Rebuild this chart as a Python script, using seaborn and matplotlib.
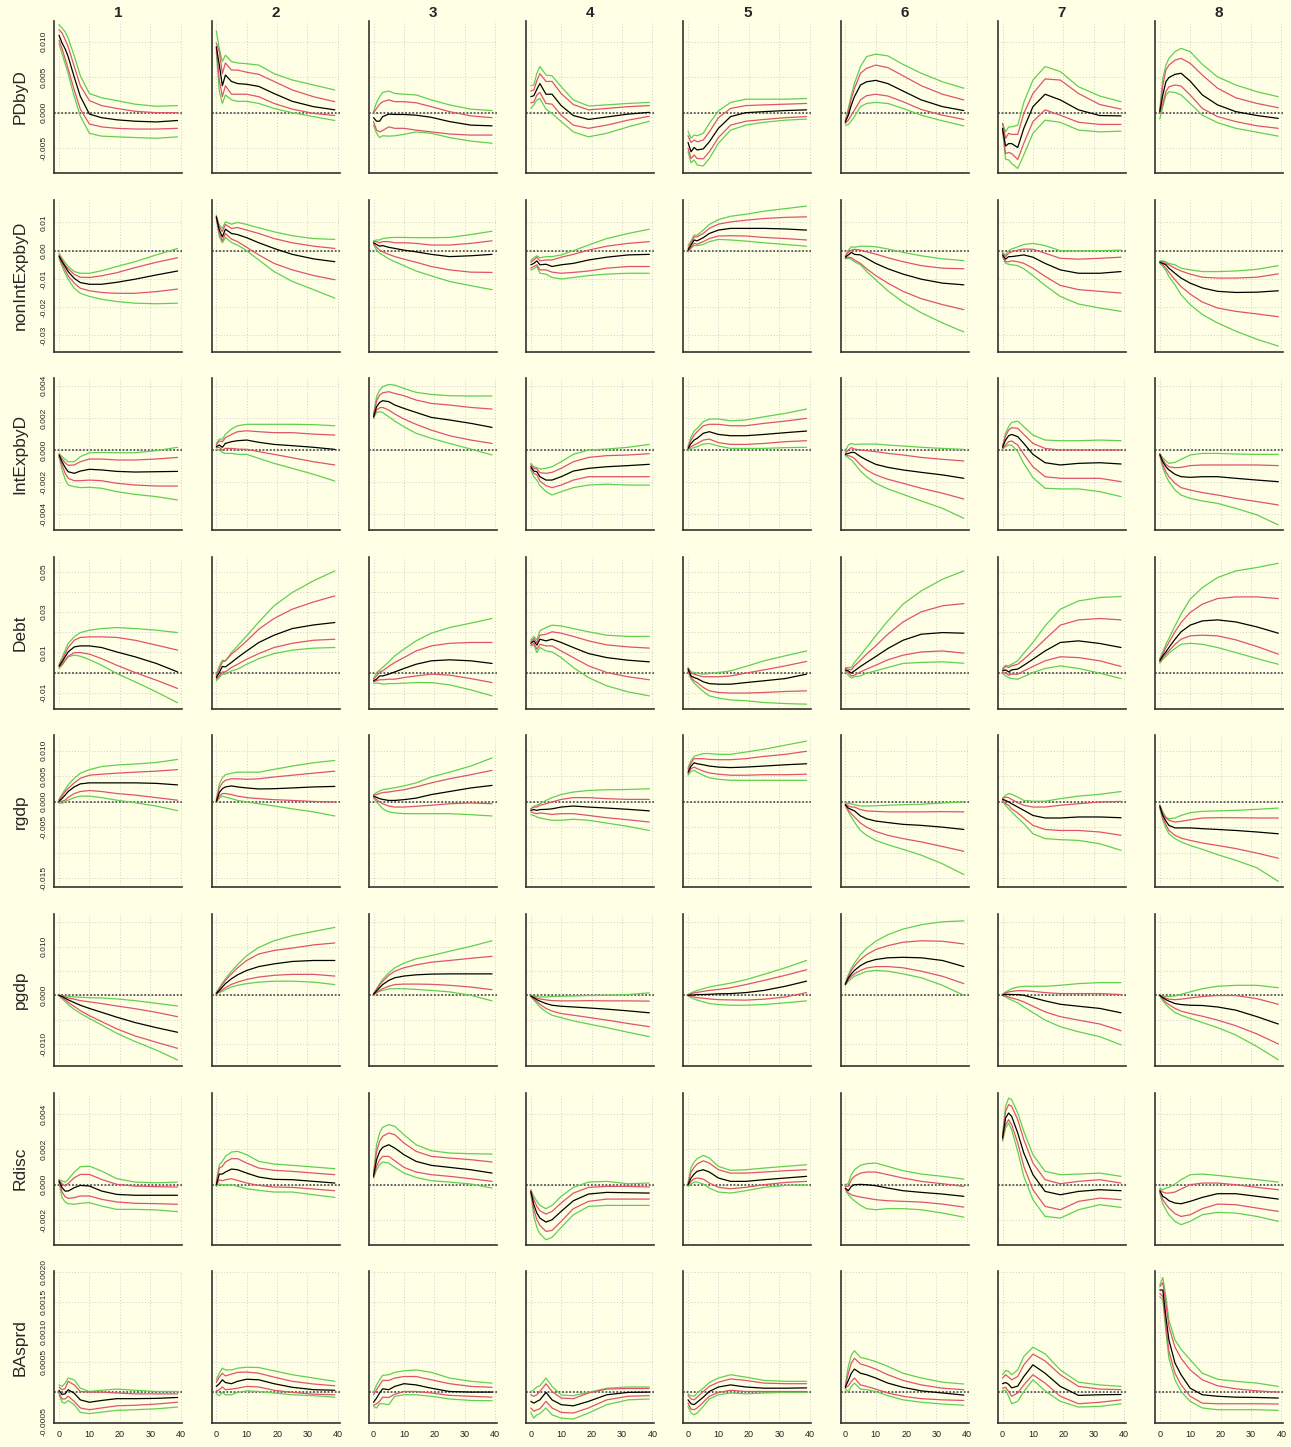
import numpy as np
import seaborn as sns
import matplotlib.pyplot as plt

H = [0, 1, 2, 3, 5, 7, 10, 14, 19, 25, 32, 39]
shocks = ["1", "2", "3", "4", "5", "6", "7", "8"]
variables = ["PDbyD", "nonIntExpbyD", "IntExpbyD", "Debt", "rgdp", "pgdp", "Rdisc", "BAsprd"]

# ---- PDbyD (x 1e-3) ----
PDbyD_mid = [
    [10.9, 9.8, 9.0, 7.9, 5.0, 2.3, -0.2, -0.7, -1.0, -1.2, -1.3, -1.1],
    [9.3, 6.7, 3.8, 5.3, 4.4, 4.1, 4.0, 3.7, 2.7, 1.6, 0.85, 0.4],
    [-0.7, -1.2, -1.2, -0.55, -0.2, -0.25, -0.25, -0.35, -0.65, -1.25, -1.75, -1.85],
    [2.25, 2.4, 3.3, 4.1, 2.6, 2.6, 1.0, -0.4, -0.95, -0.6, -0.2, 0.05],
    [-4.2, -5.5, -4.9, -5.25, -5.1, -4.1, -2.2, -0.55, 0.0, 0.15, 0.3, 0.4],
    [-1.35, -0.35, 1.1, 2.25, 3.9, 4.35, 4.55, 4.1, 3.05, 1.8, 0.85, 0.3],
    [-2.2, -4.7, -4.35, -4.35, -4.9, -2.2, 0.85, 2.6, 1.8, 0.4, -0.4, -0.45],
    [0.15, 2.5, 4.35, 4.95, 5.4, 5.55, 4.45, 2.5, 1.1, 0.15, -0.4, -0.8],
]
PDbyD_rhi = [
    [11.7, 11.2, 10.3, 9.3, 6.5, 3.8, 1.7, 1.0, 0.6, 0.2, 0.0, 0.0],
    [9.8, 8.6, 5.5, 7.0, 6.0, 6.0, 5.7, 5.4, 4.4, 3.2, 2.25, 1.55],
    [0.0, 0.6, 1.2, 1.55, 1.8, 1.55, 1.55, 1.4, 0.85, 0.15, -0.45, -0.7],
    [3.05, 3.2, 4.5, 5.5, 4.4, 4.4, 2.7, 1.15, 0.4, 0.6, 0.85, 1.0],
    [-3.25, -4.2, -3.85, -4.1, -3.85, -2.7, -0.7, 0.6, 1.0, 1.1, 1.2, 1.3],
    [-1.15, 0.15, 2.0, 3.4, 5.55, 6.25, 6.7, 6.35, 5.2, 3.8, 2.6, 1.8],
    [-1.5, -3.6, -2.9, -3.05, -3.05, -0.1, 2.7, 4.75, 4.6, 2.7, 1.15, 0.5],
    [0.15, 3.9, 6.0, 6.7, 7.4, 7.65, 6.95, 5.3, 3.45, 2.1, 1.3, 0.7],
]
PDbyD_rlo = [
    [10.2, 9.0, 7.6, 6.2, 3.2, 0.5, -1.6, -2.0, -2.2, -2.3, -2.3, -2.2],
    [9.1, 4.6, 2.25, 3.8, 2.6, 2.6, 2.6, 2.25, 1.3, 0.5, -0.1, -0.4],
    [-1.25, -2.45, -2.7, -2.5, -2.0, -2.2, -2.2, -2.45, -2.7, -3.0, -3.15, -3.15],
    [1.4, 1.5, 2.5, 2.85, 1.3, 1.2, -0.35, -1.75, -2.2, -1.75, -1.05, -0.5],
    [-5.0, -6.45, -5.95, -6.45, -6.5, -5.5, -3.5, -1.75, -1.2, -0.95, -0.7, -0.55],
    [-1.5, -1.05, -0.35, 0.35, 1.8, 2.4, 2.6, 2.35, 1.55, 0.45, -0.35, -0.95],
    [-2.45, -5.75, -5.6, -5.75, -6.6, -4.3, -1.25, 0.4, -0.35, -1.35, -1.65, -1.65],
    [-0.1, 1.3, 2.95, 3.65, 3.9, 3.75, 2.5, 0.6, -0.55, -1.25, -1.85, -2.2],
]
PDbyD_ghi = [
    [12.4, 11.9, 11.4, 10.5, 8.0, 5.2, 2.7, 2.1, 1.7, 1.2, 0.9, 1.0],
    [11.5, 9.0, 7.2, 8.1, 7.2, 7.0, 6.9, 6.7, 5.5, 4.6, 3.9, 3.2],
    [0.15, 1.45, 2.25, 2.85, 3.05, 2.7, 2.6, 2.5, 1.8, 1.1, 0.5, 0.3],
    [3.8, 3.9, 5.55, 6.5, 5.3, 5.2, 3.65, 1.8, 0.95, 1.1, 1.3, 1.45],
    [-2.6, -3.6, -3.15, -3.25, -2.9, -1.5, 0.25, 1.45, 1.9, 1.9, 1.9, 2.0],
    [-1.15, 0.6, 2.5, 4.1, 6.5, 7.9, 8.25, 8.0, 6.8, 5.55, 4.35, 3.45],
    [-1.5, -2.7, -2.0, -2.0, -1.75, 1.45, 4.6, 6.5, 5.8, 3.65, 2.35, 1.55],
    [0.4, 4.85, 6.7, 7.65, 8.6, 9.05, 8.6, 6.8, 5.05, 3.9, 2.95, 2.25],
]
PDbyD_glo = [
    [9.7, 8.3, 6.9, 5.5, 2.3, -0.5, -2.9, -3.3, -3.4, -3.5, -3.6, -3.4],
    [8.6, 3.0, 1.3, 2.5, 1.8, 1.6, 1.6, 1.3, 0.6, 0.0, -0.55, -1.1],
    [-1.75, -2.9, -3.5, -3.25, -3.3, -3.25, -3.05, -2.7, -2.9, -3.5, -4.0, -4.3],
    [0.6, 1.1, 1.8, 2.0, 0.5, -0.1, -1.25, -2.7, -3.4, -2.9, -2.0, -1.2],
    [-5.5, -7.05, -6.65, -7.35, -7.5, -6.45, -4.3, -2.45, -1.75, -1.35, -1.05, -0.9],
    [-1.75, -1.65, -1.15, -0.55, 0.85, 1.3, 1.45, 1.3, 0.6, -0.35, -1.15, -1.85],
    [-2.45, -6.55, -6.65, -7.15, -7.85, -5.95, -2.9, -1.05, -1.35, -2.45, -2.7, -2.6],
    [-0.9, 0.85, 2.5, 2.95, 2.85, 2.5, 1.3, -0.35, -1.4, -2.2, -2.75, -3.3],
]

# ---- nonIntExpbyD (x 1e-3) ----
nonIntExpbyD_mid = [
    [-1.9, -3.9, -5.6, -7.4, -9.8, -11.3, -11.9, -11.9, -11.2, -10.1, -8.6, -7.2],
    [12.0, 7.3, 4.9, 7.6, 6.1, 5.7, 4.6, 2.8, 0.8, -1.3, -2.9, -3.9],
    [2.8, 2.2, 1.6, 1.8, 1.2, 0.8, 0.2, -0.4, -1.3, -2.1, -1.8, -1.3],
    [-5.0, -4.5, -3.6, -5.0, -4.8, -5.6, -5.0, -4.5, -3.3, -2.3, -1.5, -1.3],
    [0.2, 2.0, 3.8, 3.5, 4.6, 6.1, 7.3, 7.9, 7.9, 7.9, 7.7, 7.3],
    [-2.3, -1.5, -0.6, -1.3, -1.5, -2.7, -4.5, -6.4, -8.3, -10.1, -11.5, -12.1],
    [-1.5, -3.0, -2.1, -2.1, -1.8, -1.5, -2.3, -4.5, -6.8, -8.0, -8.0, -7.4],
    [-4.1, -4.5, -5.0, -6.2, -8.0, -9.7, -11.5, -13.2, -14.4, -14.8, -14.7, -14.2],
]
nonIntExpbyD_rhi = [
    [-1.5, -3.3, -5.1, -6.4, -8.4, -9.4, -9.5, -8.9, -7.8, -6.0, -4.1, -2.5],
    [12.2, 8.4, 6.7, 9.3, 7.9, 8.2, 7.3, 6.1, 4.3, 2.8, 1.6, 0.8],
    [3.2, 3.2, 2.8, 3.2, 3.2, 2.8, 2.8, 2.6, 2.0, 2.0, 2.6, 3.5],
    [-4.1, -3.3, -2.3, -3.6, -3.3, -3.3, -2.3, -1.3, 0.2, 1.6, 2.6, 3.2],
    [0.8, 2.8, 4.9, 4.9, 6.1, 7.9, 9.4, 10.2, 10.8, 11.4, 11.8, 12.0],
    [-1.8, -0.6, 0.2, 0.5, 0.2, -0.4, -1.2, -2.5, -3.9, -5.3, -6.2, -6.4],
    [-0.9, -2.1, -0.9, -0.4, 0.2, 0.6, 0.5, -0.9, -2.7, -3.0, -2.7, -2.3],
    [-3.9, -3.9, -4.5, -5.0, -6.2, -7.2, -8.3, -9.4, -9.7, -9.7, -9.4, -8.2],
]
nonIntExpbyD_rlo = [
    [-2.1, -4.7, -6.8, -8.9, -11.5, -13.3, -14.2, -14.8, -15.1, -15.1, -14.5, -13.6],
    [11.7, 6.1, 3.5, 6.1, 4.1, 3.2, 1.2, -1.5, -4.5, -6.8, -8.8, -10.3],
    [2.6, 1.2, 0.2, -0.4, -1.3, -2.1, -3.0, -4.1, -5.6, -6.8, -7.6, -7.7],
    [-6.2, -5.6, -5.0, -6.8, -6.8, -7.6, -8.0, -7.7, -7.2, -6.2, -5.6, -5.6],
    [0.0, 1.2, 2.6, 2.3, 3.2, 4.3, 5.2, 5.3, 5.2, 4.7, 4.3, 3.8],
    [-2.7, -2.3, -2.5, -3.3, -4.5, -6.4, -8.8, -11.5, -14.4, -17.0, -19.1, -20.9],
    [-1.8, -3.9, -3.9, -3.6, -3.9, -4.5, -6.2, -9.1, -12.3, -13.8, -14.4, -15.0],
    [-4.2, -5.0, -6.2, -7.6, -10.3, -12.7, -15.4, -18.2, -20.3, -21.5, -22.4, -23.4],
]
nonIntExpbyD_ghi = [
    [-0.9, -2.7, -4.2, -5.6, -7.4, -8.0, -8.0, -7.1, -5.6, -3.9, -1.5, 0.8],
    [12.5, 9.0, 7.9, 10.2, 9.4, 10.0, 9.3, 8.1, 6.7, 5.3, 4.3, 4.0],
    [3.5, 3.8, 3.8, 4.3, 4.6, 4.7, 4.7, 4.6, 4.6, 4.7, 5.7, 6.9],
    [-3.6, -2.5, -1.8, -2.5, -2.1, -2.1, -1.5, 0.0, 2.0, 4.3, 6.1, 7.6],
    [1.8, 3.5, 5.5, 5.5, 7.3, 9.3, 11.0, 12.2, 12.9, 14.0, 14.9, 15.8],
    [-2.1, 0.2, 1.4, 1.2, 1.6, 1.6, 1.4, 0.6, -0.6, -1.8, -2.9, -3.5],
    [-0.7, -1.5, 0.0, 0.6, 1.4, 2.2, 2.6, 1.8, 0.0, -0.1, 0.0, 0.2],
    [-3.6, -3.6, -3.9, -4.5, -5.0, -6.2, -6.8, -7.4, -7.4, -7.2, -6.6, -5.3],
]
nonIntExpbyD_glo = [
    [-2.7, -5.6, -8.0, -10.1, -13.3, -15.1, -16.2, -17.2, -18.0, -18.6, -18.8, -18.6],
    [11.4, 4.9, 2.8, 4.7, 2.9, 2.0, 0.0, -3.3, -7.4, -10.9, -13.8, -16.8],
    [2.2, 0.2, -0.9, -1.5, -2.9, -3.9, -5.3, -7.2, -8.9, -10.9, -12.4, -13.8],
    [-6.8, -6.4, -5.6, -8.0, -8.3, -9.5, -10.0, -9.5, -8.8, -8.3, -8.0, -8.0],
    [-0.4, 0.8, 1.8, 1.8, 2.2, 3.2, 4.0, 3.8, 3.4, 2.8, 2.2, 1.6],
    [-2.9, -2.7, -3.0, -3.9, -5.0, -7.4, -10.3, -14.2, -18.2, -22.0, -25.6, -28.8],
    [-2.1, -4.5, -4.8, -5.0, -5.3, -6.4, -8.8, -12.3, -16.2, -18.9, -20.3, -21.5],
    [-4.5, -5.6, -7.0, -9.1, -12.1, -15.6, -19.1, -22.6, -25.6, -28.5, -31.4, -33.8],
]

# ---- IntExpbyD (x 1e-4) ----
IntExpbyD_mid = [
    [-3.1, -7.3, -10.8, -13.5, -14.5, -13.1, -12.0, -12.4, -13.3, -13.7, -13.5, -13.3],
    [2.1, 3.1, 1.7, 4.1, 5.2, 5.8, 6.2, 4.8, 3.5, 2.7, 1.7, 0.4],
    [20.7, 26.9, 29.6, 30.7, 30.1, 28.0, 25.9, 23.4, 20.3, 18.7, 16.6, 14.1],
    [-10.4, -13.1, -13.5, -16.6, -18.7, -18.7, -16.6, -13.1, -11.4, -10.4, -9.7, -8.9],
    [1.0, 4.1, 6.2, 7.3, 10.4, 11.4, 9.7, 8.9, 8.9, 9.7, 10.8, 11.8],
    [-2.7, -2.1, -1.5, -1.5, -4.1, -6.2, -8.9, -10.8, -12.4, -13.9, -15.5, -17.6],
    [1.7, 6.2, 8.9, 9.7, 8.3, 4.1, -2.7, -7.9, -9.3, -8.3, -7.9, -8.7],
    [-2.7, -7.3, -10.4, -12.4, -15.1, -16.6, -17.0, -16.6, -16.6, -17.6, -18.7, -19.7],
]
IntExpbyD_rhi = [
    [-2.7, -5.6, -7.9, -9.5, -9.3, -7.3, -5.6, -5.6, -6.2, -6.2, -5.6, -4.6],
    [3.1, 5.6, 5.2, 7.7, 9.7, 11.4, 12.0, 11.4, 10.8, 10.8, 9.9, 9.3],
    [21.8, 30.5, 34.2, 35.6, 36.3, 35.2, 33.8, 31.1, 29.0, 28.0, 26.5, 25.5],
    [-9.3, -11.4, -11.8, -14.1, -14.5, -13.9, -11.4, -7.3, -4.6, -3.5, -3.1, -2.3],
    [1.7, 6.2, 9.3, 11.4, 15.1, 16.0, 16.0, 15.1, 15.1, 16.6, 18.0, 19.7],
    [-2.1, 0.0, 1.5, 0.6, 0.0, -0.4, -1.0, -2.1, -3.1, -4.6, -5.8, -6.8],
    [2.1, 8.9, 12.4, 13.9, 13.5, 9.7, 4.1, 1.0, 0.0, 0.0, 0.0, 0.0],
    [-2.7, -6.2, -8.9, -10.4, -11.0, -10.8, -9.7, -9.3, -9.3, -9.3, -9.3, -9.7],
]
IntExpbyD_rlo = [
    [-3.7, -9.3, -14.5, -17.6, -19.1, -19.1, -18.7, -19.1, -20.7, -21.8, -22.4, -22.4],
    [1.5, 1.7, 0.0, 1.0, 1.0, 0.6, 0.4, -1.0, -2.7, -4.8, -7.3, -9.3],
    [20.1, 24.9, 26.3, 26.5, 24.9, 22.4, 19.3, 16.0, 12.4, 8.9, 6.2, 4.1],
    [-11.4, -14.5, -15.5, -19.3, -22.2, -23.4, -21.8, -18.7, -16.6, -16.6, -16.6, -16.6],
    [0.6, 2.1, 3.1, 4.1, 6.2, 6.8, 4.6, 3.5, 3.5, 4.1, 5.2, 5.8],
    [-3.1, -3.5, -4.1, -5.2, -9.3, -12.4, -15.5, -18.2, -20.7, -23.8, -26.9, -30.5],
    [1.0, 3.1, 5.2, 5.6, 3.1, -2.7, -10.4, -16.6, -17.6, -17.6, -17.6, -19.7],
    [-3.1, -9.3, -13.5, -16.6, -20.7, -23.4, -24.9, -26.5, -28.0, -30.1, -32.1, -34.2],
]
IntExpbyD_ghi = [
    [-2.1, -4.1, -5.8, -7.3, -7.3, -4.1, -1.7, -1.5, -1.7, -1.7, -0.4, 1.7],
    [4.1, 6.8, 6.8, 9.7, 13.1, 15.1, 16.0, 16.0, 16.0, 16.0, 15.8, 15.1],
    [21.8, 33.2, 37.3, 39.4, 40.8, 40.4, 38.3, 35.9, 34.6, 33.8, 33.6, 33.6],
    [-8.3, -10.4, -11.0, -11.8, -11.4, -10.4, -7.3, -2.7, 0.0, 0.6, 1.7, 3.5],
    [2.5, 8.3, 11.8, 13.5, 17.6, 19.3, 19.3, 18.2, 18.7, 20.7, 22.8, 25.5],
    [-1.0, 3.1, 4.1, 3.5, 3.7, 3.7, 3.7, 3.1, 2.5, 1.7, 1.0, 0.4],
    [2.1, 10.4, 14.5, 17.2, 18.0, 14.5, 9.3, 6.2, 5.8, 5.8, 6.2, 5.8],
    [-2.1, -4.8, -6.8, -8.3, -7.7, -5.8, -3.1, -2.1, -2.1, -2.5, -2.7, -2.7],
]
IntExpbyD_glo = [
    [-4.1, -12.4, -18.2, -21.8, -22.8, -23.4, -23.2, -23.8, -25.9, -27.6, -29.0, -31.1],
    [0.4, 0.0, -1.5, -2.1, -2.1, -2.7, -2.7, -5.2, -8.3, -11.4, -15.1, -19.3],
    [19.7, 23.4, 23.8, 23.4, 20.7, 18.0, 14.5, 10.4, 7.3, 4.1, 0.6, -3.1],
    [-12.4, -16.6, -18.7, -22.2, -25.9, -28.0, -25.9, -23.4, -21.8, -21.3, -21.8, -21.8],
    [0.0, 1.0, 1.5, 2.1, 3.7, 4.1, 2.5, 1.0, 1.0, 1.0, 1.5, 1.7],
    [-3.5, -4.8, -6.2, -8.3, -13.1, -16.6, -20.7, -24.2, -27.6, -31.7, -36.3, -42.5],
    [0.6, 2.1, 3.1, 3.1, -1.0, -8.3, -17.2, -23.8, -24.2, -24.2, -25.9, -29.0],
    [-3.5, -11.0, -16.0, -19.7, -24.9, -28.0, -30.1, -31.7, -33.2, -36.3, -40.4, -46.6],
]

# ---- Debt (x 1e-3) ----
Debt_mid = [
    [3.1, 5.3, 7.8, 10.2, 12.7, 13.2, 13.2, 12.4, 10.2, 7.8, 4.5, 0.3],
    [-2.5, 0.0, 3.0, 2.8, 5.0, 7.4, 10.7, 14.9, 18.5, 21.8, 23.6, 24.8],
    [-4.1, -3.3, -1.7, -1.7, -0.8, 0.3, 2.0, 4.1, 5.8, 6.3, 5.8, 4.5],
    [14.5, 15.7, 13.6, 16.5, 15.7, 16.5, 14.9, 12.4, 9.4, 7.4, 6.1, 5.3],
    [1.7, -1.7, -2.5, -3.0, -4.6, -5.5, -5.8, -5.8, -5.0, -4.1, -3.0, -0.8],
    [1.3, 0.8, -0.3, 0.8, 3.0, 5.0, 7.9, 11.9, 16.0, 19.0, 19.8, 19.5],
    [0.8, 1.3, 0.3, 1.3, 1.7, 3.6, 6.6, 10.7, 14.9, 15.7, 14.4, 12.4],
    [5.8, 8.3, 10.2, 12.4, 16.5, 20.2, 23.5, 25.6, 26.1, 25.1, 22.6, 19.5],
]
Debt_rhi = [
    [3.6, 6.1, 9.4, 12.4, 16.0, 17.4, 17.7, 17.7, 17.4, 16.0, 13.6, 11.1],
    [-1.7, 1.7, 5.3, 5.8, 9.1, 11.6, 15.7, 21.5, 26.8, 31.4, 35.0, 38.0],
    [-3.3, -1.7, 0.3, 0.8, 3.0, 5.0, 7.4, 10.7, 13.2, 14.5, 14.9, 14.9],
    [15.2, 16.9, 14.9, 18.5, 19.0, 20.2, 19.5, 17.9, 15.7, 13.7, 12.7, 12.1],
    [2.0, -0.3, -0.8, -1.3, -2.1, -2.1, -2.1, -1.7, -0.3, 1.3, 3.3, 5.5],
    [2.0, 1.7, 1.3, 3.3, 6.1, 9.1, 13.2, 19.0, 25.1, 30.1, 33.1, 34.2],
    [1.3, 3.0, 2.5, 3.3, 4.1, 6.6, 10.7, 16.5, 23.5, 26.1, 26.8, 26.1],
    [6.3, 9.1, 12.4, 14.9, 20.2, 24.8, 29.8, 33.9, 36.7, 37.5, 37.5, 36.7],
]
Debt_rlo = [
    [2.8, 4.1, 6.1, 8.1, 9.8, 9.9, 9.1, 6.9, 3.6, 0.0, -3.8, -7.9],
    [-3.3, -1.7, 0.3, 0.3, 2.5, 4.1, 6.6, 9.4, 12.4, 14.5, 16.0, 16.5],
    [-4.6, -4.1, -3.6, -3.6, -3.3, -3.3, -2.5, -1.7, -0.8, -1.3, -3.0, -5.0],
    [13.6, 14.5, 11.6, 14.0, 13.2, 13.2, 10.7, 7.4, 3.3, 0.0, -2.1, -3.6],
    [0.8, -2.5, -4.1, -5.0, -7.4, -9.1, -9.9, -10.2, -10.2, -9.9, -9.4, -9.1],
    [0.8, 0.0, -1.7, -1.3, 0.3, 1.7, 3.6, 6.3, 8.6, 10.2, 10.7, 9.6],
    [0.0, -0.3, -1.3, -0.8, -0.8, 0.8, 3.0, 5.8, 7.8, 7.4, 5.8, 3.0],
    [5.3, 7.4, 9.1, 10.7, 14.0, 16.5, 18.2, 18.5, 18.2, 16.2, 12.9, 9.1],
]
Debt_ghi = [
    [4.1, 7.4, 11.1, 14.4, 17.7, 19.8, 21.0, 21.8, 22.3, 21.8, 21.0, 19.8],
    [-1.2, 3.3, 6.1, 5.8, 9.9, 13.2, 18.2, 25.1, 33.1, 39.7, 45.5, 50.4],
    [-3.0, 0.0, 1.2, 2.5, 5.3, 8.3, 11.6, 15.7, 19.5, 22.3, 24.5, 26.8],
    [16.2, 17.9, 16.2, 20.7, 22.3, 23.5, 23.1, 21.8, 20.2, 18.5, 17.9, 17.9],
    [2.5, 0.3, 0.0, -0.3, -0.8, -0.5, 0.0, 0.8, 3.0, 5.8, 8.3, 10.7],
    [2.5, 2.5, 2.5, 5.0, 8.6, 12.4, 18.2, 25.6, 33.9, 40.5, 46.3, 50.4],
    [2.0, 3.6, 3.3, 4.1, 5.8, 9.6, 14.9, 23.1, 31.4, 35.5, 37.2, 37.7],
    [6.9, 10.2, 14.0, 16.9, 23.1, 28.9, 36.4, 42.1, 47.1, 50.4, 52.1, 54.2],
]
Debt_glo = [
    [2.0, 3.6, 5.8, 7.8, 8.6, 8.1, 6.4, 3.6, -0.5, -4.6, -9.6, -15.0],
    [-4.1, -2.5, -0.8, -0.8, 0.8, 1.7, 4.1, 6.9, 9.4, 11.1, 12.1, 12.4],
    [-5.3, -5.3, -5.3, -5.8, -5.5, -5.5, -5.3, -5.0, -5.0, -6.1, -8.6, -11.6],
    [13.2, 13.6, 9.9, 12.4, 10.7, 10.2, 7.4, 2.5, -2.5, -6.6, -9.6, -11.6],
    [0.3, -3.3, -5.3, -6.6, -9.4, -11.6, -12.7, -13.6, -14.0, -14.9, -15.4, -15.7],
    [0.3, -1.3, -2.8, -2.0, -1.7, -0.3, 0.8, 2.5, 4.5, 5.0, 5.3, 4.6],
    [-0.5, -1.7, -2.5, -3.0, -3.3, -2.0, 0.0, 2.0, 3.3, 2.0, -0.3, -3.0],
    [4.6, 6.6, 7.9, 9.6, 11.9, 14.0, 14.5, 14.0, 12.4, 9.9, 6.9, 4.1],
]

# ---- rgdp (x 1e-3) ----
rgdp_mid = [
    [0.1, 0.65, 1.3, 2.0, 2.9, 3.5, 3.7, 3.7, 3.7, 3.7, 3.6, 3.3],
    [0.05, 1.8, 2.55, 2.9, 3.1, 2.9, 2.7, 2.5, 2.55, 2.7, 2.9, 3.0],
    [1.1, 0.85, 0.6, 0.45, 0.25, 0.25, 0.4, 0.7, 1.4, 2.0, 2.7, 3.2],
    [-1.7, -1.55, -1.7, -1.55, -1.5, -1.4, -1.05, -0.85, -1.05, -1.25, -1.5, -1.8],
    [5.8, 7.0, 7.65, 7.45, 7.25, 7.0, 6.8, 6.7, 6.8, 7.0, 7.25, 7.45],
    [-0.6, -1.25, -1.55, -1.8, -2.8, -3.35, -3.8, -4.1, -4.45, -4.65, -5.0, -5.45],
    [0.45, 0.25, -0.05, -0.4, -1.05, -1.7, -2.7, -3.2, -3.2, -3.0, -3.0, -3.15],
    [-0.85, -2.7, -3.8, -4.65, -5.15, -5.15, -5.15, -5.3, -5.45, -5.65, -5.95, -6.3],
]
rgdp_rhi = [
    [0.3, 1.1, 2.0, 2.6, 3.7, 4.6, 5.2, 5.4, 5.6, 5.8, 6.0, 6.3],
    [0.25, 2.7, 3.7, 4.2, 4.5, 4.5, 4.4, 4.5, 4.85, 5.2, 5.6, 6.0],
    [1.25, 1.4, 1.6, 1.8, 1.9, 2.1, 2.35, 2.9, 3.7, 4.5, 5.3, 6.15],
    [-1.4, -1.05, -1.05, -0.7, -0.4, -0.05, 0.45, 0.8, 0.8, 0.6, 0.45, 0.45],
    [6.35, 7.65, 8.45, 8.45, 8.45, 8.3, 8.25, 8.25, 8.45, 8.9, 9.3, 9.9],
    [-0.4, -0.85, -1.05, -1.05, -1.55, -1.8, -1.9, -2.0, -2.0, -2.0, -1.95, -2.0],
    [0.6, 0.9, 0.8, 0.45, -0.2, -0.7, -1.05, -1.05, -0.7, -0.4, -0.05, 0.05],
    [-0.7, -2.35, -3.2, -3.65, -4.0, -3.85, -3.55, -3.2, -3.15, -3.15, -3.2, -3.2],
]
rgdp_rlo = [
    [0.0, 0.1, 0.3, 0.85, 1.6, 2.0, 2.2, 2.0, 1.6, 1.3, 0.8, 0.3],
    [-0.05, 1.1, 1.6, 1.6, 1.4, 1.1, 0.8, 0.6, 0.4, 0.25, 0.05, -0.05],
    [0.9, 0.4, -0.05, -0.4, -0.85, -1.05, -1.05, -0.9, -0.7, -0.4, -0.25, -0.4],
    [-2.0, -2.2, -2.35, -2.2, -2.35, -2.5, -2.35, -2.35, -2.7, -3.15, -3.55, -4.0],
    [5.5, 6.5, 6.8, 6.5, 6.0, 5.65, 5.4, 5.2, 5.2, 5.3, 5.3, 5.4],
    [-0.7, -1.7, -2.35, -3.0, -4.2, -5.0, -5.85, -6.6, -7.25, -7.9, -8.8, -9.75],
    [0.25, -0.4, -0.7, -1.4, -2.2, -3.2, -4.65, -5.45, -5.65, -5.65, -5.95, -6.6],
    [-1.05, -3.2, -4.5, -5.65, -6.6, -7.15, -7.6, -8.1, -8.6, -9.2, -10.1, -11.1],
]
rgdp_ghi = [
    [0.45, 1.5, 2.4, 3.3, 4.6, 5.6, 6.3, 6.9, 7.2, 7.4, 7.7, 8.3],
    [0.45, 3.5, 4.7, 5.3, 5.6, 5.8, 5.8, 5.8, 6.35, 7.0, 7.65, 8.1],
    [1.4, 1.8, 2.1, 2.35, 2.55, 2.75, 3.1, 3.7, 4.85, 5.8, 7.0, 8.6],
    [-1.4, -0.9, -0.7, -0.4, 0.25, 0.8, 1.4, 1.9, 2.2, 2.35, 2.4, 2.55],
    [6.6, 8.1, 8.9, 9.1, 9.45, 9.45, 9.3, 9.3, 9.75, 10.3, 11.1, 11.9],
    [-0.2, -0.4, -0.4, -0.6, -0.85, -0.85, -0.8, -0.7, -0.6, -0.5, -0.25, -0.05],
    [0.7, 1.25, 1.6, 1.45, 0.9, 0.25, 0.1, 0.1, 0.6, 1.1, 1.45, 2.0],
    [-0.6, -2.0, -3.0, -3.35, -3.2, -2.7, -2.15, -1.9, -1.8, -1.7, -1.5, -1.25],
]
rgdp_glo = [
    [-0.3, -0.3, 0.0, 0.3, 0.8, 1.1, 1.1, 0.8, 0.3, -0.2, -0.85, -1.75],
    [-0.2, 0.7, 1.1, 0.9, 0.6, 0.25, -0.05, -0.4, -0.85, -1.4, -2.0, -2.8],
    [0.7, -0.05, -0.7, -1.4, -2.0, -2.2, -2.35, -2.35, -2.35, -2.35, -2.55, -2.8],
    [-2.55, -2.7, -3.0, -3.2, -3.45, -3.65, -3.65, -3.45, -3.65, -4.2, -4.85, -5.65],
    [5.2, 6.0, 6.15, 5.8, 5.2, 4.7, 4.4, 4.2, 4.2, 4.2, 4.2, 4.2],
    [-0.7, -2.0, -3.0, -4.0, -5.65, -6.6, -7.6, -8.45, -9.35, -10.5, -12.2, -14.3],
    [0.05, -0.7, -1.4, -2.0, -3.2, -4.3, -6.3, -7.25, -7.45, -7.6, -8.25, -9.55],
    [-1.25, -3.65, -5.15, -6.3, -7.25, -7.9, -8.6, -9.35, -10.4, -11.5, -13.0, -15.65],
]

# ---- pgdp (x 1e-3) ----
pgdp_mid = [
    [0.0, -0.25, -0.6, -0.95, -1.5, -2.05, -2.7, -3.5, -4.5, -5.6, -6.65, -7.6],
    [0.35, 1.0, 1.7, 2.4, 3.4, 4.2, 5.1, 5.9, 6.45, 6.95, 7.15, 7.15],
    [0.2, 0.9, 1.55, 2.2, 3.05, 3.6, 3.95, 4.2, 4.35, 4.4, 4.4, 4.4],
    [-0.15, -0.5, -0.9, -1.2, -1.7, -2.05, -2.25, -2.4, -2.6, -2.85, -3.2, -3.6],
    [0.0, 0.05, 0.05, 0.15, 0.15, 0.2, 0.3, 0.35, 0.55, 1.0, 1.85, 2.9],
    [2.25, 3.55, 4.4, 5.1, 6.1, 6.8, 7.35, 7.7, 7.8, 7.7, 7.15, 5.9],
    [0.05, 0.2, 0.2, 0.15, 0.15, 0.0, -0.5, -1.15, -1.85, -2.25, -2.7, -3.6],
    [0.0, -0.5, -0.9, -1.2, -1.7, -1.9, -2.05, -2.1, -2.4, -3.05, -4.4, -5.9],
]
pgdp_rhi = [
    [0.0, -0.15, -0.35, -0.55, -0.8, -1.1, -1.35, -1.7, -2.2, -2.75, -3.5, -4.4],
    [0.5, 1.35, 2.25, 3.05, 4.4, 5.65, 7.15, 8.5, 9.2, 9.7, 10.35, 10.75],
    [0.3, 1.15, 2.05, 2.85, 4.1, 4.95, 5.65, 6.25, 6.8, 7.15, 7.6, 8.0],
    [-0.05, -0.35, -0.6, -0.75, -0.95, -1.1, -1.15, -1.15, -1.1, -1.15, -1.15, -1.2],
    [0.05, 0.3, 0.5, 0.6, 0.8, 1.0, 1.2, 1.55, 2.2, 3.05, 4.1, 5.25],
    [2.4, 3.9, 5.1, 6.0, 7.35, 8.35, 9.4, 10.2, 10.9, 11.2, 11.1, 10.55],
    [0.15, 0.5, 0.7, 0.8, 0.95, 0.95, 0.8, 0.55, 0.35, 0.35, 0.35, 0.15],
    [0.0, -0.35, -0.6, -0.8, -0.9, -0.8, -0.55, -0.25, -0.05, -0.05, -0.7, -1.85],
]
pgdp_rlo = [
    [-0.05, -0.5, -0.95, -1.45, -2.3, -3.15, -4.2, -5.4, -6.9, -8.35, -9.65, -10.9],
    [0.35, 0.7, 1.15, 1.55, 2.25, 2.7, 3.25, 3.75, 4.1, 4.3, 4.3, 3.95],
    [0.15, 0.6, 1.0, 1.35, 1.85, 2.2, 2.3, 2.3, 2.25, 2.05, 1.7, 1.15],
    [-0.2, -0.75, -1.3, -1.85, -2.7, -3.25, -3.75, -4.1, -4.55, -5.1, -5.8, -6.45],
    [-0.05, -0.2, -0.35, -0.5, -0.6, -0.75, -0.9, -0.95, -1.0, -0.8, -0.35, 0.55],
    [2.2, 3.2, 3.9, 4.4, 5.1, 5.6, 5.9, 5.9, 5.65, 4.95, 3.9, 2.4],
    [0.0, -0.15, -0.35, -0.55, -0.9, -1.35, -2.25, -3.4, -4.4, -5.1, -5.9, -7.3],
    [-0.05, -0.8, -1.45, -1.9, -2.7, -3.25, -3.75, -4.3, -5.1, -6.25, -7.95, -10.0],
]
pgdp_ghi = [
    [0.0, -0.05, -0.15, -0.2, -0.35, -0.4, -0.5, -0.55, -0.75, -1.1, -1.65, -2.2],
    [0.55, 1.55, 2.5, 3.4, 4.95, 6.3, 8.15, 9.85, 11.2, 12.25, 13.1, 13.95],
    [0.35, 1.35, 2.4, 3.25, 4.6, 5.65, 6.6, 7.5, 8.15, 9.05, 10.05, 11.2],
    [-0.05, -0.2, -0.25, -0.35, -0.35, -0.25, -0.2, -0.15, -0.05, 0.0, 0.15, 0.5],
    [0.15, 0.5, 0.75, 1.0, 1.35, 1.7, 2.05, 2.5, 3.2, 4.3, 5.65, 7.15],
    [2.5, 4.2, 5.6, 6.6, 8.35, 9.65, 11.1, 12.45, 13.6, 14.5, 15.1, 15.3],
    [0.2, 0.7, 1.0, 1.35, 1.7, 1.85, 1.85, 1.85, 2.05, 2.4, 2.6, 2.6],
    [0.05, -0.15, -0.25, -0.25, -0.15, 0.2, 0.7, 1.35, 1.85, 2.05, 2.05, 1.55],
]
pgdp_glo = [
    [-0.15, -0.7, -1.3, -1.9, -2.9, -3.7, -4.75, -6.1, -7.8, -9.5, -11.25, -13.3],
    [0.3, 0.55, 0.8, 1.15, 1.7, 2.05, 2.4, 2.7, 2.9, 2.9, 2.7, 2.2],
    [0.05, 0.5, 0.8, 1.0, 1.3, 1.35, 1.35, 1.2, 1.0, 0.7, 0.0, -1.15],
    [-0.25, -1.0, -1.7, -2.4, -3.4, -4.1, -4.6, -5.25, -5.9, -6.65, -7.6, -8.5],
    [-0.15, -0.5, -0.75, -1.0, -1.35, -1.7, -1.9, -2.05, -2.05, -1.9, -1.55, -1.15],
    [2.05, 2.85, 3.4, 3.9, 4.4, 4.9, 5.1, 4.95, 4.4, 3.6, 2.05, 0.0],
    [-0.05, -0.35, -0.7, -1.0, -1.55, -2.4, -3.55, -5.1, -6.45, -7.5, -8.5, -10.2],
    [-0.15, -1.15, -1.9, -2.5, -3.55, -4.1, -4.75, -5.6, -6.65, -8.15, -10.55, -13.25],
]

# ---- Rdisc (x 1e-4) ----
Rdisc_mid = [
    [2.1, -1.7, -3.6, -3.6, -1.7, -0.4, -0.75, -3.6, -5.5, -6.0, -6.0, -6.0],
    [0.0, 6.05, 6.05, 7.2, 8.9, 8.5, 6.6, 4.35, 3.05, 2.85, 1.9, 0.95],
    [4.75, 14.2, 18.95, 21.2, 22.7, 20.8, 17.05, 13.25, 11.0, 9.85, 8.5, 6.6],
    [-3.8, -11.35, -16.1, -18.95, -21.2, -19.9, -15.15, -9.1, -5.3, -4.35, -4.55, -4.75],
    [0.0, 3.8, 6.05, 7.6, 8.5, 7.2, 3.8, 1.9, 1.9, 2.85, 3.8, 4.75],
    [-1.9, -3.4, -0.95, 0.0, 0.2, 0.0, -0.55, -1.9, -3.4, -4.35, -5.3, -6.6],
    [26.5, 37.9, 40.7, 38.8, 29.35, 18.0, 5.7, -3.8, -5.7, -3.8, -2.85, -3.4],
    [-3.4, -6.6, -7.6, -9.1, -10.4, -10.8, -9.45, -7.2, -5.1, -5.1, -6.6, -8.15],
]
Rdisc_rhi = [
    [2.45, 0.55, -0.75, 0.75, 3.95, 5.85, 5.85, 3.0, 0.2, -0.75, -1.1, -1.3],
    [0.95, 9.45, 10.4, 12.9, 14.8, 14.8, 12.3, 9.45, 8.15, 7.6, 6.6, 5.7],
    [5.7, 18.95, 24.6, 27.5, 29.35, 28.4, 23.7, 18.95, 16.1, 15.15, 14.2, 12.9],
    [-3.4, -8.5, -12.3, -14.8, -16.65, -15.15, -10.4, -4.75, -1.5, -0.95, -0.95, -1.3],
    [0.55, 7.2, 9.85, 11.75, 13.6, 12.3, 8.5, 6.6, 6.6, 7.2, 7.95, 8.5],
    [-0.95, -0.95, 2.85, 4.75, 6.6, 7.2, 7.2, 5.7, 3.8, 1.9, 0.55, -0.95],
    [27.45, 41.65, 45.45, 44.5, 36.9, 25.55, 12.3, 2.85, 0.55, 1.9, 2.85, 0.95],
    [-2.85, -4.15, -4.75, -4.75, -4.15, -2.45, 0.0, 0.95, 0.95, 0.0, -1.5, -2.85],
]
Rdisc_rlo = [
    [1.7, -4.15, -6.8, -7.75, -7.35, -6.4, -6.4, -8.3, -9.8, -10.55, -10.75, -11.1],
    [-0.4, 2.85, 2.25, 2.85, 3.4, 2.45, 0.95, -0.4, -1.3, -1.5, -2.45, -3.4],
    [4.15, 10.4, 14.2, 16.1, 16.1, 13.6, 9.85, 7.2, 5.7, 4.75, 3.4, 1.9],
    [-4.15, -14.2, -19.9, -23.1, -26.5, -25.95, -20.8, -13.6, -9.45, -8.15, -8.15, -8.15],
    [-0.4, 1.9, 3.4, 3.8, 3.2, 0.95, -1.5, -2.25, -1.5, 0.0, 1.3, 1.9],
    [-2.25, -4.75, -5.7, -6.25, -7.0, -7.6, -8.5, -9.1, -9.45, -9.85, -11.0, -12.7],
    [25.55, 34.1, 36.9, 34.1, 23.7, 10.4, -2.85, -12.3, -14.2, -9.45, -7.6, -8.5],
    [-4.15, -8.5, -11.0, -13.25, -16.45, -18.0, -17.05, -13.6, -11.0, -11.35, -13.25, -15.15],
]
Rdisc_ghi = [
    [3.0, 2.1, 1.5, 3.0, 7.15, 10.2, 10.55, 7.75, 3.4, 1.5, 1.1, 1.5],
    [1.5, 11.35, 13.25, 16.1, 18.55, 18.95, 17.05, 13.25, 11.75, 11.0, 10.05, 9.1],
    [6.6, 22.7, 29.35, 32.6, 34.1, 33.15, 28.4, 22.7, 19.3, 18.0, 17.6, 17.4],
    [-2.85, -6.6, -9.45, -11.75, -13.6, -11.75, -6.6, -1.5, 1.5, 1.9, 0.55, 0.95],
    [0.95, 9.85, 12.9, 14.8, 16.65, 15.15, 10.4, 8.15, 8.5, 9.45, 10.4, 11.35],
    [-0.55, 0.95, 5.7, 8.5, 11.0, 11.95, 12.3, 10.4, 7.95, 6.05, 4.75, 3.2],
    [28.4, 44.5, 49.25, 48.3, 40.7, 30.3, 17.05, 7.6, 5.7, 6.05, 6.6, 4.75],
    [-1.9, -2.85, -1.9, -1.5, 0.4, 2.85, 5.7, 6.05, 5.3, 4.15, 2.85, 1.5],
]
Rdisc_glo = [
    [1.1, -7.35, -9.8, -10.75, -11.1, -10.55, -10.2, -12.1, -14.0, -14.0, -14.3, -15.3],
    [-0.95, 0.4, 0.0, 0.0, 0.0, -0.95, -2.25, -3.2, -4.15, -4.15, -5.7, -7.2],
    [3.8, 8.5, 11.35, 12.9, 12.3, 9.85, 6.6, 4.15, 2.25, 1.5, 0.4, -1.9],
    [-4.75, -18.0, -24.25, -27.85, -31.25, -29.9, -24.25, -17.05, -12.3, -11.75, -11.75, -11.75],
    [-0.95, 0.4, 1.5, 1.5, 0.4, -1.9, -4.15, -4.75, -3.4, -1.5, -0.4, 0.0],
    [-2.85, -5.7, -7.6, -9.1, -11.75, -13.6, -14.2, -13.6, -13.6, -14.2, -16.1, -18.4],
    [24.6, 32.2, 35.0, 31.25, 18.95, 4.75, -8.5, -18.0, -18.95, -14.2, -11.35, -12.9],
    [-4.75, -11.0, -14.2, -17.05, -20.8, -22.7, -20.8, -17.05, -15.7, -16.1, -18.0, -20.8],
]

# ---- BAsprd (x 1e-4) ----
BAsprd_mid = [
    [0.3, -0.4, -0.3, 0.4, -0.2, -1.3, -1.7, -1.4, -1.1, -1.1, -1.05, -0.9],
    [0.95, 1.4, 2.05, 1.6, 1.4, 1.8, 2.15, 2.05, 1.4, 0.8, 0.4, 0.3],
    [-1.7, -1.0, -0.15, 0.55, 0.4, 0.95, 1.4, 1.2, 0.65, 0.1, 0.0, 0.0],
    [-1.55, -1.85, -1.55, -1.3, -0.05, -1.3, -2.1, -2.3, -1.55, -0.45, -0.05, 0.0],
    [-1.3, -1.95, -2.1, -1.7, -0.85, 0.1, 0.85, 1.2, 0.85, 0.65, 0.65, 0.7],
    [0.8, 1.95, 3.15, 3.85, 3.15, 2.9, 2.35, 1.5, 0.8, 0.2, -0.15, -0.5],
    [1.4, 1.6, 1.3, 0.7, 1.0, 2.6, 4.55, 3.15, 0.95, -0.55, -0.45, -0.4],
    [17.05, 17.05, 12.6, 8.7, 4.85, 2.9, 0.65, -0.45, -0.7, -0.85, -0.9, -1.0],
]
BAsprd_rhi = [
    [0.85, 0.4, 0.6, 1.8, 1.2, 0.1, 0.0, 0.0, -0.15, -0.3, -0.3, -0.3],
    [1.6, 2.5, 3.15, 2.7, 3.0, 3.3, 3.35, 3.15, 2.5, 1.8, 1.35, 1.05],
    [-0.45, 0.4, 1.2, 1.95, 1.95, 2.35, 2.6, 2.6, 2.05, 1.4, 0.95, 0.8],
    [-0.45, -0.7, -0.45, 0.1, 1.4, 0.1, -1.0, -1.1, -0.15, 0.5, 0.6, 0.6],
    [-0.55, -1.15, -1.3, -0.85, 0.1, 0.95, 1.65, 2.2, 1.95, 1.5, 1.4, 1.4],
    [0.95, 3.15, 4.85, 5.65, 4.7, 4.4, 3.85, 2.9, 1.95, 1.2, 0.65, 0.4],
    [2.35, 2.9, 2.5, 2.05, 2.6, 4.55, 6.35, 5.2, 2.9, 0.95, 0.5, 0.4],
    [17.6, 18.3, 14.85, 10.95, 7.5, 5.65, 3.7, 2.05, 1.05, 0.55, 0.2, 0.0],
]
BAsprd_rlo = [
    [-0.15, -1.15, -1.15, -0.7, -1.55, -2.65, -2.95, -2.65, -2.3, -2.2, -2.0, -1.7],
    [0.2, 0.4, 0.85, 0.4, 0.5, 0.65, 0.95, 0.85, 0.3, -0.05, -0.35, -0.45],
    [-2.2, -1.95, -1.55, -0.85, -0.9, -0.35, 0.1, 0.1, -0.15, -0.55, -0.7, -0.85],
    [-2.65, -3.2, -2.95, -2.8, -1.55, -2.65, -3.4, -3.5, -2.65, -1.3, -0.7, -0.6],
    [-1.85, -2.85, -2.95, -2.65, -1.7, -0.7, -0.05, 0.3, 0.1, 0.1, 0.1, 0.1],
    [0.65, 1.05, 1.8, 2.35, 1.2, 0.95, 0.5, -0.15, -0.7, -1.1, -1.3, -1.4],
    [0.65, 0.8, 0.1, -0.7, -0.15, 1.2, 2.9, 1.5, -0.7, -1.95, -1.7, -1.3],
    [16.5, 15.95, 11.2, 6.8, 3.15, 1.2, -0.7, -1.85, -1.95, -1.95, -1.95, -2.0],
]
BAsprd_ghi = [
    [1.2, 0.95, 1.5, 2.35, 2.05, 0.65, 0.1, 0.3, 0.5, 0.3, 0.1, 0.1],
    [2.05, 3.15, 4.0, 3.7, 3.7, 4.0, 4.15, 4.1, 3.55, 2.9, 2.35, 1.8],
    [0.0, 1.2, 2.05, 2.8, 2.9, 3.3, 3.55, 3.7, 3.3, 2.35, 1.8, 1.5],
    [0.1, 0.4, 0.85, 1.05, 2.35, 0.95, -0.5, -0.6, -0.05, 0.65, 0.85, 0.85],
    [-0.3, -0.6, -0.7, -0.15, 0.65, 1.6, 2.35, 2.9, 2.5, 1.95, 1.8, 1.8],
    [1.05, 4.3, 6.2, 6.9, 5.8, 5.55, 5.1, 4.3, 3.15, 2.35, 1.65, 1.35],
    [2.9, 3.6, 3.45, 2.9, 3.7, 5.95, 7.5, 6.4, 3.7, 1.65, 1.2, 0.95],
    [17.9, 19.15, 15.95, 12.05, 8.7, 7.15, 5.4, 3.15, 2.15, 1.8, 1.5, 0.95],
]
BAsprd_glo = [
    [-0.45, -1.7, -1.85, -1.4, -2.1, -3.4, -3.6, -3.35, -3.05, -2.95, -2.8, -2.5],
    [-0.3, -0.6, -0.05, -0.45, -0.45, -0.05, 0.2, 0.1, -0.15, -0.45, -0.6, -0.85],
    [-2.4, -2.65, -1.95, -1.95, -2.1, -0.7, -0.45, -0.45, -0.7, -1.15, -1.4, -1.45],
    [-3.4, -4.35, -3.8, -3.6, -2.65, -3.8, -4.35, -4.5, -3.5, -2.1, -1.3, -1.15],
    [-2.4, -3.5, -3.8, -3.5, -2.4, -1.15, -0.45, -0.15, -0.3, -0.15, -0.05, -0.05],
    [0.55, 0.1, 0.95, 1.5, 0.5, 0.4, 0.1, -0.6, -1.3, -1.7, -2.0, -2.2],
    [0.3, 0.3, -0.7, -1.95, -1.55, 0.1, 2.05, 0.2, -1.55, -2.5, -2.4, -1.95],
    [15.95, 15.4, 10.1, 5.65, 2.05, 0.1, -1.55, -2.65, -2.95, -2.95, -2.95, -3.05],
]

scales = [1e-3, 1e-3, 1e-4, 1e-3, 1e-3, 1e-3, 1e-4, 1e-4]
series = [
    (PDbyD_mid, PDbyD_rhi, PDbyD_rlo, PDbyD_ghi, PDbyD_glo),
    (nonIntExpbyD_mid, nonIntExpbyD_rhi, nonIntExpbyD_rlo, nonIntExpbyD_ghi, nonIntExpbyD_glo),
    (IntExpbyD_mid, IntExpbyD_rhi, IntExpbyD_rlo, IntExpbyD_ghi, IntExpbyD_glo),
    (Debt_mid, Debt_rhi, Debt_rlo, Debt_ghi, Debt_glo),
    (rgdp_mid, rgdp_rhi, rgdp_rlo, rgdp_ghi, rgdp_glo),
    (pgdp_mid, pgdp_rhi, pgdp_rlo, pgdp_ghi, pgdp_glo),
    (Rdisc_mid, Rdisc_rhi, Rdisc_rlo, Rdisc_ghi, Rdisc_glo),
    (BAsprd_mid, BAsprd_rhi, BAsprd_rlo, BAsprd_ghi, BAsprd_glo),
]

# y axis per row
ylims = [(-8.49e-3, 12.91e-3), (-35.75e-3, 18.1e-3), (-4.99e-3, 4.47e-3), (-18.0e-3, 57.4e-3),
         (-16.83e-3, 13.02e-3), (-14.53e-3, 16.7e-3), (-3.40e-3, 5.23e-3), (-0.52e-3, 2.02e-3)]
yticks = [
    [-0.005, 0.0, 0.005, 0.010],
    [-0.03, -0.02, -0.01, 0.0, 0.01],
    [-0.004, -0.002, 0.0, 0.002, 0.004],
    [-0.01, 0.0, 0.01, 0.02, 0.03, 0.04, 0.05],
    [-0.015, -0.010, -0.005, 0.0, 0.005, 0.010],
    [-0.010, -0.005, 0.0, 0.005, 0.010, 0.015],
    [-0.002, 0.0, 0.002, 0.004],
    [-0.0005, 0.0, 0.0005, 0.0010, 0.0015, 0.0020],
]
ylabels = [
    ["-0.005", "0.000", "0.005", "0.010"],
    ["-0.03", "-0.02", "-0.01", "0.00", "0.01"],
    ["-0.004", "-0.002", "0.000", "0.002", "0.004"],
    ["-0.01", "", "0.01", "", "0.03", "", "0.05"],
    ["-0.015", "", "-0.005", "0.000", "0.005", "0.010"],
    ["-0.010", "", "0.000", "", "0.010", ""],
    ["-0.002", "0.000", "0.002", "0.004"],
    ["-0.0005", "", "0.0005", "0.0010", "0.0015", "0.0020"],
]
xticks = [0, 10, 20, 30, 40]

BG = "#FFFFE6"
RED = "#DF536B"
GREEN = "#61D04F"

sns.set_style("white")
plt.rcParams["font.family"] = ["Liberation Sans", "DejaVu Sans"]

W, Hpx = 1291, 1447
fig = plt.figure(figsize=(W / 100, Hpx / 100), dpi=100)
fig.patch.set_facecolor(BG)

pw, ph = 128, 152
for i, var in enumerate(variables):
    bottom_px = 173 + i * 178.6
    for j, shock in enumerate(shocks):
        left_px = 54.3 + j * 157.25
        ax = fig.add_axes([left_px / W, 1 - bottom_px / Hpx, pw / W, ph / Hpx])
        ax.set_facecolor(BG)
        sc = scales[i]
        mid, rhi, rlo, ghi, glo = series[i]
        for vals, col in [(ghi, GREEN), (glo, GREEN), (rhi, RED), (rlo, RED), (mid, "black")]:
            sns.lineplot(x=H, y=np.array(vals[j]) * sc, ax=ax, color=col, lw=0.9,
                         estimator=None, zorder=3)
        ax.axhline(0, color="#555555", lw=1.3, ls=(0, (1, 1)), zorder=2)

        ax.set_xlim(-1.56, 40.56)
        ax.set_ylim(*ylims[i])
        ax.set_xticks(xticks)
        ax.set_yticks(yticks[i])
        ax.grid(True, color="#CFCFCF", lw=0.7, ls=(0, (1, 2)))
        ax.set_axisbelow(True)
        for s in ["top", "right"]:
            ax.spines[s].set_visible(False)
        for s in ["left", "bottom"]:
            ax.spines[s].set_color("#333333")
            ax.spines[s].set_linewidth(1.2)
        ax.set_xlabel("")
        ax.set_ylabel("")

        if j == 0:
            ax.set_yticklabels(ylabels[i])
            ax.tick_params(axis="y", length=3, width=0.8, pad=2, labelsize=6, colors="#222222")
            for lab in ax.get_yticklabels():
                lab.set_rotation(90)
                lab.set_va("center")
        else:
            ax.set_yticklabels([])
            ax.tick_params(axis="y", length=0)

        if i == len(variables) - 1:
            ax.set_xticklabels([str(t) for t in xticks])
            ax.tick_params(axis="x", length=3, width=0.8, pad=2, labelsize=6.5, colors="#222222")
        else:
            ax.set_xticklabels([])
            ax.tick_params(axis="x", length=0)

        if i == 0:
            fig.text((left_px + pw / 2) / W, 1 - 13 / Hpx, shock, ha="center", va="center",
                     fontsize=11, fontweight="bold")
    fig.text(20 / W, 1 - (bottom_px - ph / 2) / Hpx, var, rotation=90, ha="center",
             va="center", fontsize=12.5)

fig.savefig("out.png", dpi=100, facecolor=BG)
